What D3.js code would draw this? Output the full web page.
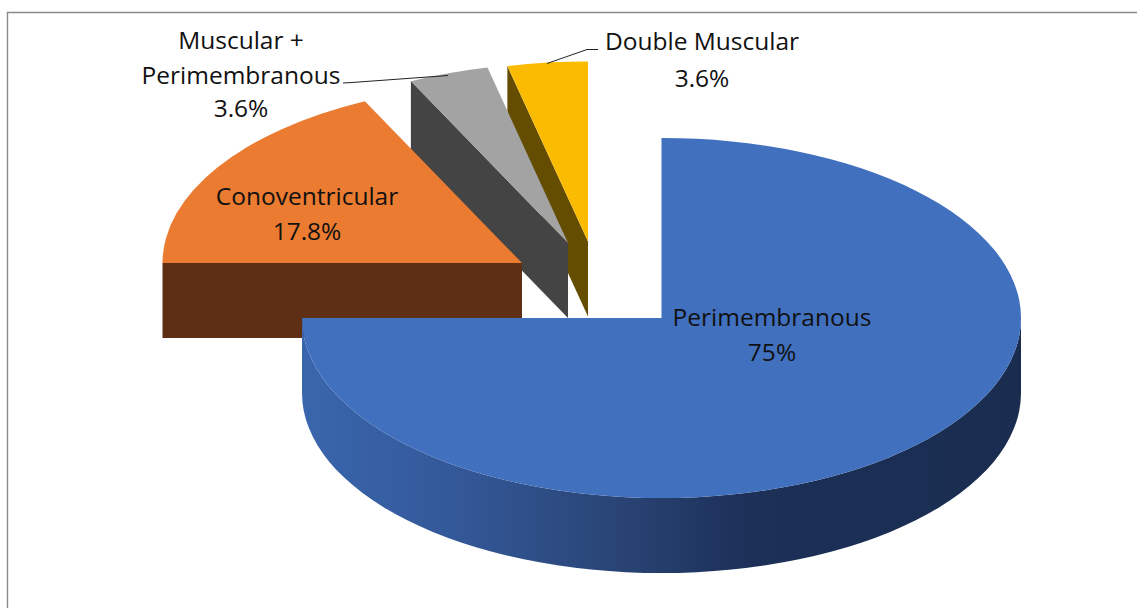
<!DOCTYPE html>
<html><head><meta charset="utf-8">
<script src="https://cdnjs.cloudflare.com/ajax/libs/d3/7.8.5/d3.min.js"></script>
<style>html,body{margin:0;padding:0;background:#fff;overflow:hidden}svg{display:block}
text{font-family:"Open Sans","Noto Sans",sans-serif;font-size:24.5px;fill:#111;text-anchor:middle}</style>
</head><body><svg id="c" width="1137" height="608"></svg>
<script>
const categories = ["Perimembranous","Conoventricular","Muscular + Perimembranous","Double Muscular"];
const values = [75,17.8,3.6,3.6];
const valueLabels = ["75%","17.8%","3.6%","3.6%"];
const topColors = ["#4170bf","#ea7b30","#a3a3a3","#fbbb00"];
const wallColors = ["#1b2e52","#5e2f14","#444444","#644c00"];

const W=1137,H=608,rx=359.5,ry=180,depth=75;
const centers=[[661.5,318],[522,263],[568,243],[588,241.5]];
const svg=d3.select("#c");
svg.append("path").attr("d",`M1137 12.5H7.5V608`).attr("fill","none").attr("stroke","#8a8a8a").attr("stroke-width",1.4);

const defs=svg.append("defs");
const grad=defs.append("linearGradient").attr("id","wall").attr("gradientUnits","userSpaceOnUse")
  .attr("x1",302).attr("x2",1021).attr("y1",0).attr("y2",0);
[[0,"#3a66ad"],[.2,"#34599a"],[.42,"#2a4678"],[.62,"#1c3058"],[1,"#1a2d50"]].forEach(([o,c])=>grad.append("stop").attr("offset",o).attr("stop-color",c));

const arcs=d3.pie().sort(null).value(d=>d)(values);
const arc=d3.arc().innerRadius(0).outerRadius(1);
const sx=d3.scaleLinear().domain([-1,1]).range([-rx,rx]);
const sy=d3.scaleLinear().domain([-1,1]).range([-ry,ry]);
const px=(i,a)=>[centers[i][0]+sx(Math.sin(a)),centers[i][1]+sy(-Math.cos(a))];

function plane(i,a){ // radial wall from the rim point at angle a to the centre
  const p=px(i,a),c=centers[i];
  return `M${p[0]} ${p[1]}L${c[0]} ${c[1]}L${c[0]} ${c[1]+depth}L${p[0]} ${p[1]+depth}Z`;
}
function drawTop(i){
  svg.append("path").attr("d",arc(arcs[i]))
    .attr("transform",`translate(${centers[i]}) scale(${rx},${ry})`)
    .attr("fill",topColors[i]);
}
// back-to-front: yellow, grey, orange, blue
[3,2].forEach(i=>{
  svg.append("path").attr("d",plane(i,arcs[i].startAngle)).attr("fill",wallColors[i]);
  drawTop(i);
});
svg.append("path").attr("d",plane(1,arcs[1].startAngle)).attr("fill",wallColors[1]);
drawTop(1);
// blue front rim
const R=px(0,Math.PI/2),L=px(0,arcs[0].endAngle);
svg.append("path").attr("fill","url(#wall)")
  .attr("d",`M${R[0]} ${R[1]}A${rx} ${ry} 0 0 1 ${L[0]} ${L[1]}L${L[0]} ${L[1]+depth}A${rx} ${ry} 0 0 0 ${R[0]} ${R[1]+depth}Z`);
drawTop(0);

// leader lines
const line=d3.line();
svg.append("path").attr("d",line([[343,83],[352,82.5],[448,75.5]])).attr("fill","none").attr("stroke","#222").attr("stroke-width",1);
svg.append("path").attr("d",line([[598,49.5],[587,49.5],[547,63.5]])).attr("fill","none").attr("stroke","#222").attr("stroke-width",1);

// labels
const labelRows=[
 {x:772,rows:[[categories[0],326],[valueLabels[0],361]]},
 {x:307,rows:[[categories[1],205],[valueLabels[1],240]]},
 {x:241,rows:[["Muscular +",49],["Perimembranous",83.5],[valueLabels[2],117]]},
 {x:702,rows:[[categories[3],50],[valueLabels[3],87]]}
];
labelRows.forEach(l=>l.rows.forEach(([t,y])=>svg.append("text").attr("x",l.x).attr("y",y).text(t)));
</script></body></html>
